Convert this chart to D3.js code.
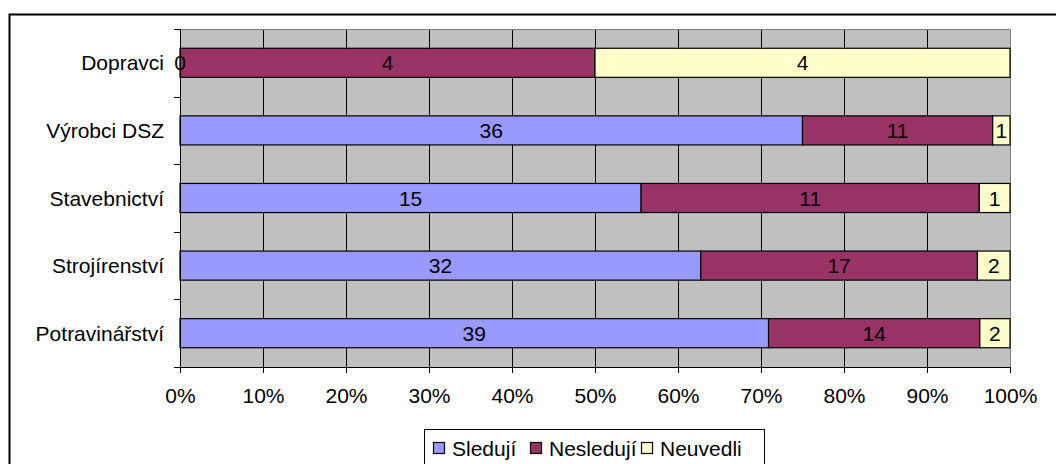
<!DOCTYPE html>
<html>
<head>
<meta charset="utf-8">
<script src="https://cdn.jsdelivr.net/npm/d3@7/dist/d3.min.js"></script>
<style>
  html, body { margin: 0; padding: 0; background: #fff; }
  svg { display: block; font-family: "Liberation Sans", Arial, sans-serif; }
</style>
</head>
<body>
<svg id="chart" width="1056" height="464"></svg>
<script>
// Categories, top to bottom
const categories = ["Dopravci", "Výrobci DSZ", "Stavebnictví", "Strojírenství", "Potravinářství"];
// Counts per series
const sledujiValues = [0, 36, 15, 32, 39];
const nesledujiValues = [4, 11, 11, 17, 14];
const neuvedliValues = [4, 1, 1, 2, 2];
const seriesNames = ["Sledují", "Nesledují", "Neuvedli"];
const seriesColors = ["#9999FF", "#993366", "#FFFFCC"];
const tickLabels = ["0%", "10%", "20%", "30%", "40%", "50%", "60%", "70%", "80%", "90%", "100%"];

const FONT = 21;
const svg = d3.select("#chart");

// Outer frame
svg.append("rect")
  .attr("x", 9.5).attr("y", 14.5)
  .attr("width", 1060).attr("height", 460)
  .attr("fill", "#fff").attr("stroke", "#000").attr("stroke-width", 2);

const plot = { left: 180, right: 1010, top: 29, bottom: 367 };

const x = d3.scaleLinear().domain([0, 1]).range([plot.left, plot.right]);
const y = d3.scaleBand().domain(categories).range([plot.top, plot.bottom])
  .paddingInner(0.57).paddingOuter(0.285);

// Plot background
svg.append("rect")
  .attr("x", plot.left).attr("y", plot.top)
  .attr("width", plot.right - plot.left).attr("height", plot.bottom - plot.top)
  .attr("fill", "#C0C0C0");

// Vertical gridlines
const ticks = d3.range(0, 11).map(i => i / 10);
svg.append("g").selectAll("line").data(ticks.slice(1, -1)).join("line")
  .attr("x1", d => Math.round(x(d)) + 0.5).attr("x2", d => Math.round(x(d)) + 0.5)
  .attr("y1", plot.top).attr("y2", plot.bottom)
  .attr("stroke", "#000").attr("stroke-width", 1);

// Plot border on top and right
svg.append("path")
  .attr("d", `M${plot.left},${plot.top + 0.5}H${plot.right + 0.5}V${plot.bottom}`)
  .attr("fill", "none").attr("stroke", "#808080").attr("stroke-width", 1);

// Stacked shares
const rows = categories.map((c, i) => {
  const vals = [sledujiValues[i], nesledujiValues[i], neuvedliValues[i]];
  const total = d3.sum(vals);
  let acc = 0;
  return vals.map((v, s) => {
    const seg = { cat: c, series: s, value: v, x0: acc / total, x1: (acc + v) / total };
    acc += v;
    return seg;
  });
});
const segments = rows.flat();

const bars = svg.append("g");
bars.selectAll("rect").data(segments.filter(d => d.value > 0)).join("rect")
  .attr("x", d => x(d.x0)).attr("width", d => x(d.x1) - x(d.x0))
  .attr("y", d => y(d.cat)).attr("height", y.bandwidth())
  .attr("fill", d => seriesColors[d.series])
  .attr("stroke", "#000").attr("stroke-width", 1.2);

// Value labels
bars.selectAll("text").data(segments).join("text")
  .attr("x", d => (x(d.x0) + x(d.x1)) / 2)
  .attr("y", d => y(d.cat) + y.bandwidth() / 2)
  .attr("dy", "0.36em")
  .attr("text-anchor", "middle")
  .attr("font-size", FONT)
  .attr("fill", "#000")
  .text(d => d.value);

// Left axis
const yAxis = svg.append("g");
yAxis.append("line")
  .attr("x1", plot.left + 0.5).attr("x2", plot.left + 0.5)
  .attr("y1", plot.top).attr("y2", plot.bottom)
  .attr("stroke", "#000");
const bounds = d3.range(0, categories.length + 1).map(i => plot.top + i * (plot.bottom - plot.top) / categories.length);
yAxis.selectAll("line.tk").data(bounds).join("line").attr("class", "tk")
  .attr("x1", plot.left - 6).attr("x2", plot.left)
  .attr("y1", d => Math.round(d) + 0.5).attr("y2", d => Math.round(d) + 0.5)
  .attr("stroke", "#000");
yAxis.selectAll("text").data(categories).join("text")
  .attr("x", 164)
  .attr("y", d => y(d) + y.bandwidth() / 2)
  .attr("dy", "0.36em")
  .attr("text-anchor", "end")
  .attr("font-size", FONT)
  .text(d => d);

// Bottom axis
const xAxis = d3.axisBottom(x).tickValues(ticks).tickFormat((d, i) => tickLabels[i])
  .tickSize(6).tickPadding(15);
const gx = svg.append("g").attr("transform", `translate(0,${plot.bottom})`).call(xAxis);
gx.select(".domain").attr("stroke", "#000").attr("d", `M${plot.left},0.5H${plot.right + 0.5}`);
gx.selectAll(".tick line").attr("stroke", "#000");
gx.selectAll(".tick text").attr("font-size", FONT).attr("fill", "#000")
  .attr("font-family", "'Liberation Sans', Arial, sans-serif");

// Legend
const legend = svg.append("g");
legend.append("rect")
  .attr("x", 424.5).attr("y", 429.5).attr("width", 340).attr("height", 40)
  .attr("fill", "#fff").attr("stroke", "#000");
const legendX = [433, 530, 641];
const items = legend.selectAll("g.item").data(seriesNames).join("g").attr("class", "item")
  .attr("transform", (d, i) => `translate(${legendX[i]},442)`);
items.append("rect")
  .attr("x", 0.5).attr("y", 0.5).attr("width", 11).attr("height", 11)
  .attr("fill", (d, i) => seriesColors[i]).attr("stroke", "#000").attr("stroke-width", 1.2);
items.append("text")
  .attr("x", 19).attr("y", 6).attr("dy", "0.36em")
  .attr("font-size", FONT)
  .text(d => d);
</script>
</body>
</html>
